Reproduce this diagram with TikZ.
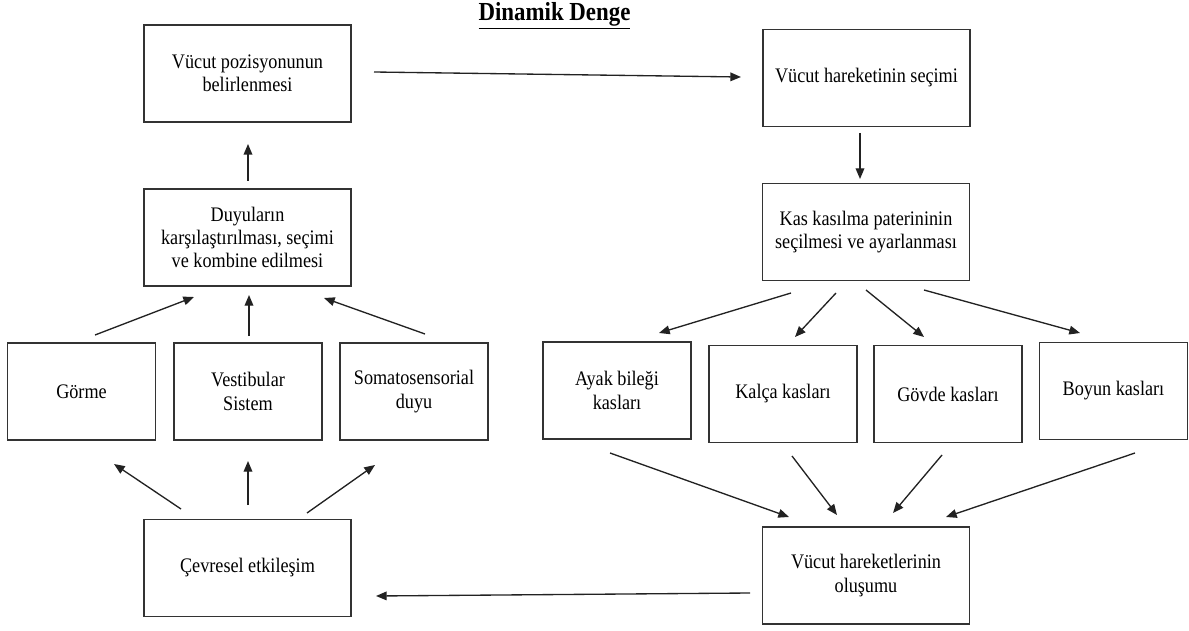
\documentclass[tikz,border=0pt]{standalone}
\usepackage{fontspec}
\setmainfont{Liberation Serif}[FakeStretch=0.88]
\usetikzlibrary{arrows.meta}

\definecolor{boxline}{HTML}{333333}
\definecolor{arrowline}{HTML}{222222}

\begin{document}
\begin{tikzpicture}[x=0.75pt, y=-0.75pt,
  box/.style={draw=boxline, line width=1.1pt, rectangle, align=center,
    inner sep=0pt, font=\fontsize{15.5pt}{17.5pt}\selectfont},
  widebox/.style={box, minimum width=155.5pt, minimum height=73pt},
  smallbox/.style={box, minimum width=111pt, minimum height=73pt},
  flow/.style={draw=arrowline, line width=1pt,
    -{Triangle[length=8pt, width=6.5pt]}},
  titletext/.style={font=\fontsize{19.5pt}{22pt}\selectfont\bfseries}
]
\useasboundingbox (0,0) rectangle (1189,631);

% heading
\node[titletext] (title) at (554.5,16) {\underline{Dinamik Denge}};

% left column: sensing
\node[widebox] (pos) at (247.5,73.5) {Vücut pozisyonunun\\belirlenmesi};
\node[widebox] (duy) at (247.5,237.5) {Duyuların\\karşılaştırılması, seçimi\\ve kombine edilmesi};
\node[smallbox] (gor) at (81.5,391.5) {Görme};
\node[smallbox] (ves) at (248,391.5) {Vestibular\\Sistem};
\node[smallbox] (som) at (414,391.5) {Somatosensorial\\duyu};
\node[widebox] (cev) at (247.5,568) {Çevresel etkileşim};

% right column: motor response
\node[widebox] (sel) at (866.5,78) {Vücut hareketinin seçimi};
\node[widebox] (kas) at (866,232) {Kas kasılma paterininin\\seçilmesi ve ayarlanması};
\node[smallbox] (ayak) at (617,390.5) {Ayak bileği\\kasları};
\node[smallbox] (kal) at (783,394) {Kalça kasları};
\node[smallbox] (gov) at (948,394) {Gövde kasları};
\node[smallbox] (boy) at (1113.5,391) {Boyun kasları};
\node[widebox] (olus) at (866,575.5) {Vücut hareketlerinin\\oluşumu};

% arrow end points (arrows stand free of the boxes)
\coordinate (posR)  at (374,72);   \coordinate (selL)  at (741,77);
\coordinate (selB)  at (860,133);  \coordinate (kasT)  at (860,179);
\coordinate (duyT)  at (248,181);  \coordinate (posB)  at (248,144);
\coordinate (gorT)  at (95,335);   \coordinate (duyB1) at (194,297);
\coordinate (vesT)  at (249,336);  \coordinate (duyB2) at (249,295);
\coordinate (somT)  at (425,334);  \coordinate (duyB3) at (324,298);
\coordinate (kasB1) at (791,293);  \coordinate (ayakT) at (659,333);
\coordinate (kasB2) at (836,293);  \coordinate (kalT)  at (795,337);
\coordinate (kasB3) at (866,290);  \coordinate (govT)  at (924,337);
\coordinate (kasB4) at (924,290);  \coordinate (boyT)  at (1080,333);
\coordinate (ayakB) at (610,453);  \coordinate (olusT1) at (789,517);
\coordinate (kalB)  at (792,456);  \coordinate (olusT2) at (837,515);
\coordinate (govB)  at (942,455);  \coordinate (olusT3) at (893,513);
\coordinate (boyB)  at (1135,453); \coordinate (olusT4) at (946,517);
\coordinate (olusL) at (750,593);  \coordinate (cevR)  at (376,596);
\coordinate (cevT1) at (181,509);  \coordinate (gorB)  at (114,464);
\coordinate (cevT2) at (248,505);  \coordinate (vesB)  at (248,461);
\coordinate (cevT3) at (307,513);  \coordinate (somB)  at (375,465);

% connectors
\draw[flow] (posR) -- (selL);
\draw[flow] (selB) -- (kasT);
\draw[flow] (duyT) -- (posB);
\draw[flow] (gorT) -- (duyB1);
\draw[flow] (vesT) -- (duyB2);
\draw[flow] (somT) -- (duyB3);
\draw[flow] (kasB1) -- (ayakT);
\draw[flow] (kasB2) -- (kalT);
\draw[flow] (kasB3) -- (govT);
\draw[flow] (kasB4) -- (boyT);
\draw[flow] (ayakB) -- (olusT1);
\draw[flow] (kalB) -- (olusT2);
\draw[flow] (govB) -- (olusT3);
\draw[flow] (boyB) -- (olusT4);
\draw[flow] (olusL) -- (cevR);
\draw[flow] (cevT1) -- (gorB);
\draw[flow] (cevT2) -- (vesB);
\draw[flow] (cevT3) -- (somB);
\end{tikzpicture}
\end{document}
